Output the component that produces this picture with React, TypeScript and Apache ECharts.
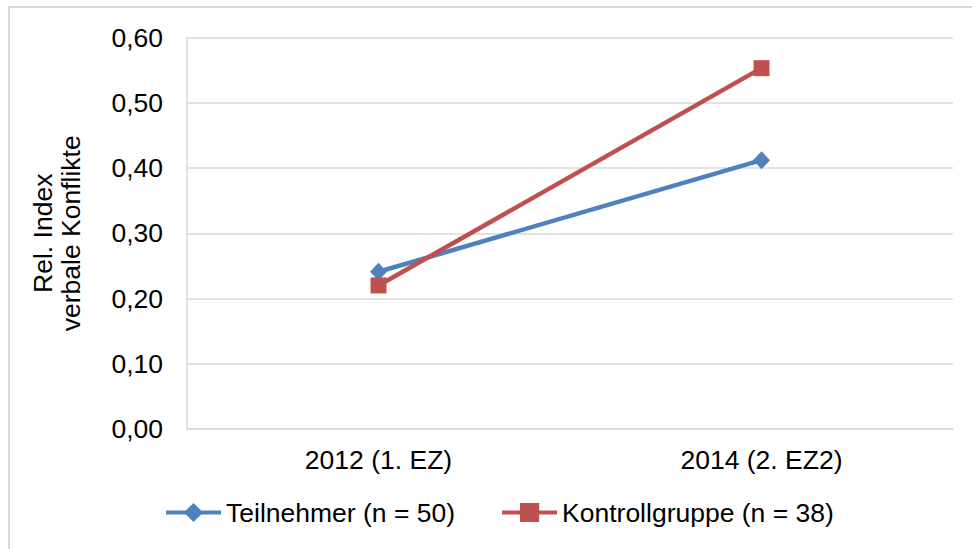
import React, { useEffect, useRef } from "react";
import * as echarts from "echarts";

const categories = ["2012 (1. EZ)", "2014 (2. EZ2)"];
const teilnehmer = [0.241, 0.412];
const kontrollgruppe = [0.22, 0.553];
const seriesNames = ["Teilnehmer (n = 50)", "Kontrollgruppe (n = 38)"];
const yAxisTitle = "Rel. Index\nverbale Konflikte";

const FONT = "'Liberation Sans', Arial, sans-serif";
const FS = 26.5;

export default function App() {
  const ref = useRef<HTMLDivElement>(null);
  useEffect(() => {
    if (!ref.current) return;
    const chart = echarts.init(ref.current, undefined, { renderer: "svg" });
    chart.setOption({
      animation: false,
      backgroundColor: "#ffffff",
      textStyle: { fontFamily: FONT, color: "#000" },
      graphic: [
        {
          type: "rect",
          shape: { x: 9, y: 7, width: 1000, height: 600 },
          style: { fill: "none", stroke: "#d9d9d9", lineWidth: 2 },
          silent: true,
        },
      ],
      grid: { left: 187, right: 19, top: 37.5, bottom: 120, containLabel: false },
      legend: {
        data: seriesNames,
        top: 499,
        left: 164,
        padding: 0,
        itemWidth: 55,
        itemHeight: 24,
        itemGap: 45,
        lineStyle: { width: 4 },
        textStyle: { fontFamily: FONT, fontSize: FS, color: "#000" },
      },
      xAxis: {
        type: "category",
        data: categories,
        boundaryGap: true,
        axisLine: { show: true, lineStyle: { color: "#d9d9d9", width: 1.5 } },
        axisTick: { show: false },
        axisLabel: { fontFamily: FONT, fontSize: FS, color: "#000", margin: 17 },
      },
      yAxis: {
        type: "value",
        min: 0,
        max: 0.6,
        interval: 0.1,
        name: yAxisTitle,
        nameLocation: "middle",
        nameRotate: 90,
        nameGap: 102,
        nameTextStyle: { fontFamily: FONT, fontSize: FS, color: "#000", lineHeight: 28 },
        axisLine: { show: true, lineStyle: { color: "#d9d9d9", width: 1.5 } },
        axisTick: { show: false },
        splitLine: { show: true, lineStyle: { color: "#d9d9d9", width: 1.5 } },
        axisLabel: {
          fontFamily: FONT,
          fontSize: FS,
          color: "#000",
          margin: 24,
          formatter: (v: number) => v.toFixed(2).replace(".", ","),
        },
      },
      series: [
        {
          name: seriesNames[0],
          type: "line",
          data: teilnehmer,
          symbol: "diamond",
          symbolSize: [17, 18],
          lineStyle: { color: "#4f81bd", width: 4.5 },
          itemStyle: { color: "#4f81bd" },
          z: 2,
        },
        {
          name: seriesNames[1],
          type: "line",
          data: kontrollgruppe,
          symbol: "rect",
          symbolSize: 16,
          lineStyle: { color: "#c0504d", width: 4.5 },
          itemStyle: { color: "#c0504d" },
          z: 3,
        },
      ],
    });
    return () => chart.dispose();
  }, []);
  return (
    <div
      ref={ref}
      style={{ position: "fixed", left: 0, top: 0, width: 972, height: 549 }}
    />
  );
}
